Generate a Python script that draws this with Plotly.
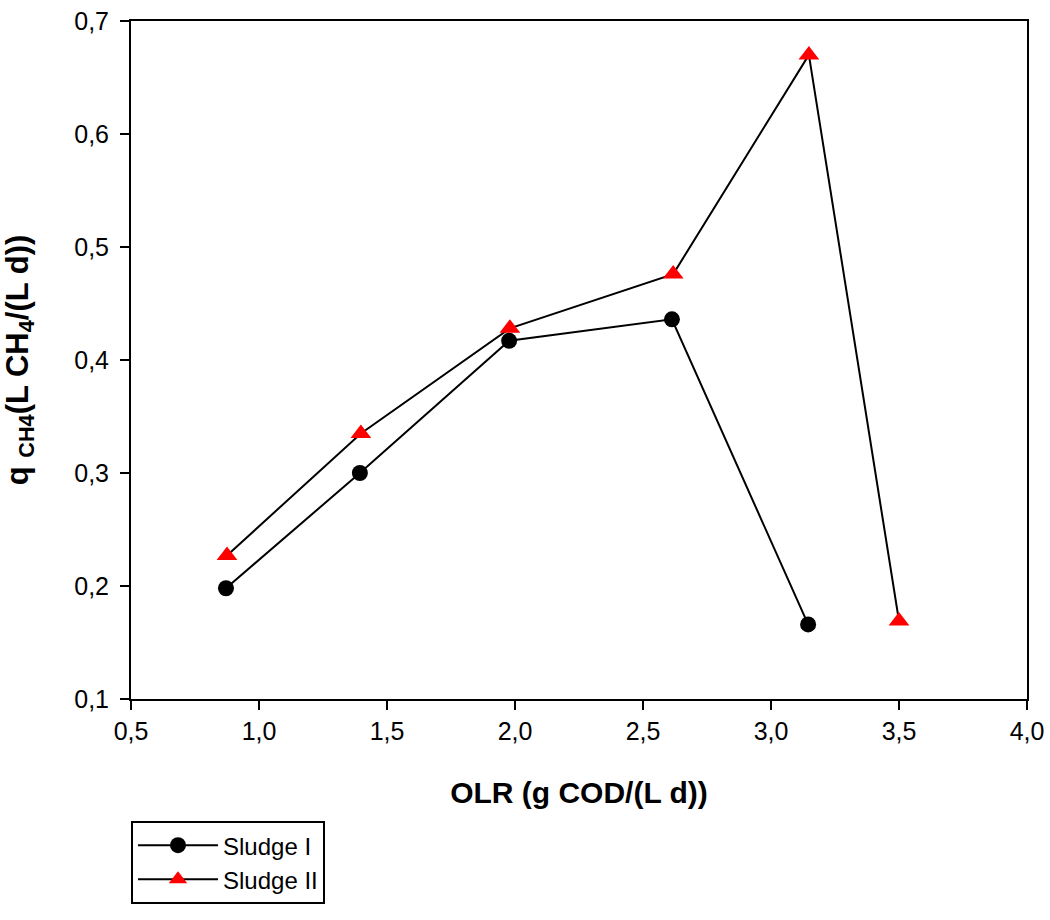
import plotly.graph_objects as go

# OLR (g COD/(L d)) and methane production rate q_CH4 (L CH4/(L d))
olr_sludge1 = [0.871, 1.394, 1.977, 2.613, 3.145]
q_sludge1 = [0.198, 0.300, 0.417, 0.436, 0.166]

olr_sludge2 = [0.875, 1.398, 1.980, 2.618, 3.148, 3.500]
q_sludge2 = [0.227, 0.335, 0.428, 0.476, 0.670, 0.169]

x_ticks = [0.5, 1.0, 1.5, 2.0, 2.5, 3.0, 3.5, 4.0]
y_ticks = [0.1, 0.2, 0.3, 0.4, 0.5, 0.6, 0.7]

FONT = "Liberation Sans, Arial, sans-serif"

fig = go.Figure()
fig.add_trace(go.Scatter(
    x=olr_sludge1, y=q_sludge1, name="Sludge I", mode="lines+markers",
    line=dict(color="black", width=2),
    marker=dict(symbol="circle", size=16, color="black"),
))
fig.add_trace(go.Scatter(
    x=olr_sludge2, y=q_sludge2, name="Sludge II", mode="lines+markers",
    line=dict(color="black", width=2),
    marker=dict(symbol="triangle-up", size=18, color="red"),
))

axis_common = dict(
    showline=True, linecolor="black", linewidth=2, mirror=True,
    ticks="outside", ticklen=9, tickwidth=2, tickcolor="black",
    showgrid=False, zeroline=False, tickformat=".1f", automargin=False,
    tickfont=dict(family=FONT, size=25, color="black"),
)

fig.update_xaxes(
    range=[0.5, 4.0], tickvals=x_ticks,
    title=dict(text="<b>OLR (g COD/(L d))</b>", font=dict(family=FONT, size=30, color="black"), standoff=38),
    **axis_common,
)
fig.update_yaxes(
    range=[0.1, 0.7], tickvals=y_ticks, ticklabelstandoff=6,
    title=dict(text="<b>q <sub>CH4</sub>(L CH<sub>4</sub>/(L d))</b>", font=dict(family=FONT, size=31, color="black"), standoff=38),
    **axis_common,
)

fig.update_layout(
    width=1050, height=920,
    margin=dict(l=131, r=23, t=21, b=221),
    paper_bgcolor="white", plot_bgcolor="white",
    separators=",.",
    font=dict(family=FONT, color="black"),
    legend=dict(
        x=0, y=-0.18, xanchor="left", yanchor="top",
        bordercolor="black", borderwidth=2, bgcolor="white",
        itemwidth=80, tracegroupgap=4, entrywidth=210, entrywidthmode="pixels",
        font=dict(family=FONT, size=24, color="black"),
    ),
)

fig.write_html("out.html")
